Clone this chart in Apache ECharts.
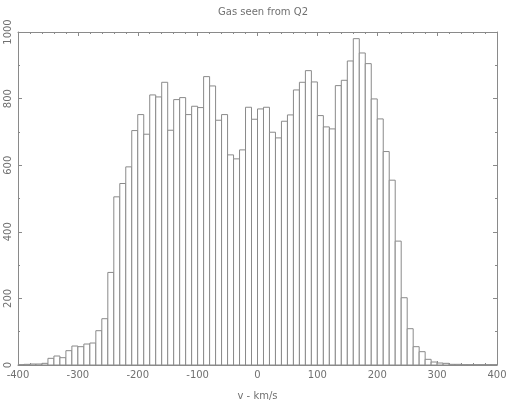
<!DOCTYPE html>
<html>
<head>
<meta charset="utf-8">
<script src="https://cdn.jsdelivr.net/npm/echarts@6/dist/echarts.min.js"></script>
<style>
    html, body {margin: 0; padding: 0; background: #fff;}
    #container {width: 510px; height: 406px;}
</style>
</head>
<body>
<div id="container"></div>
<script>
// histogram bins, 10 km/s wide (left edge of each bin)
var binWidth = 10;
var binStart = [
    -400, -390, -380, -370, -360, -350, -340, -330, -320, -310,
    -300, -290, -280, -270, -260, -250, -240, -230, -220, -210,
    -200, -190, -180, -170, -160, -150, -140, -130, -120, -110,
    -100, -90, -80, -70, -60, -50, -40, -30, -20, -10,
    0, 10, 20, 30, 40, 50, 60, 70, 80, 90,
    100, 110, 120, 130, 140, 150, 160, 170, 180, 190,
    200, 210, 220, 230, 240, 250, 260, 270, 280, 290,
    300, 310, 320, 330, 340, 350, 360, 370, 380, 390
];
var counts = [
    1, 2, 3, 3, 5, 20, 27, 22, 43, 57,
    55, 63, 66, 103, 139, 278, 505, 545, 595, 704,
    752, 693, 811, 805, 849, 705, 797, 803, 752, 777,
    773, 866, 838, 735, 752, 631, 619, 646, 774, 738,
    769, 774, 699, 682, 732, 751, 826, 849, 884, 850,
    749, 715, 709, 839, 855, 913, 980, 937, 905, 799,
    739, 641, 555, 372, 202, 109, 55, 40, 17, 9,
    6, 5, 2, 2, 1, 1, 1, 1, 1, 1
];
var xTicks = {min: -400, max: 400, interval: 100};
var yTicks = {min: 0, max: 1000, interval: 200};

var data = [];
for (let i = 0; i < binStart.length; i++) {
    data.push([binStart[i], counts[i]]);
}

var textColor = '#707070';
var lineColor = '#8a8a8a';
var fontName = 'DejaVu Sans';

function renderBar(params, api) {
    var x0 = api.value(0);
    var p0 = api.coord([x0, 0]);
    var p1 = api.coord([x0 + binWidth, api.value(1)]);
    return {
        type: 'rect',
        shape: {x: p0[0], y: p1[1], width: p1[0] - p0[0], height: p0[1] - p1[1]},
        style: {fill: '#fff', stroke: lineColor, lineWidth: 1}
    };
}

function frameAxis(pos, ticks, minorSplit, labels) {
    return {
        type: 'value',
        position: pos,
        min: ticks.min,
        max: ticks.max,
        interval: ticks.interval,
        axisLine: {show: true, onZero: false, lineStyle: {color: lineColor, width: 1}},
        axisTick: {show: true, inside: true, length: 4, lineStyle: {color: lineColor}},
        minorTick: {show: true, splitNumber: minorSplit, length: 2, lineStyle: {color: lineColor}},
        splitLine: {show: false},
        axisLabel: labels
    };
}

var myChart = echarts.init(document.getElementById('container'));
var option = {
    animation: false,
    backgroundColor: '#fff',
    title: {
        text: 'Gas seen from Q2',
        left: 258,
        top: 2,
        textAlign: 'center',
        textStyle: {fontFamily: fontName, fontSize: 10, fontWeight: 'normal', color: textColor}
    },
    grid: {left: 18, right: 13, top: 32, bottom: 40},
    xAxis: [
        Object.assign(frameAxis('bottom', xTicks, 5, {
            show: true, margin: 5, fontFamily: fontName, fontSize: 10, color: textColor
        }), {
            name: 'v - km/s',
            nameLocation: 'middle',
            nameGap: 26,
            nameTextStyle: {fontFamily: fontName, fontSize: 10, color: textColor}
        }),
        frameAxis('top', xTicks, 5, {show: false})
    ],
    yAxis: [
        frameAxis('left', yTicks, 2, {
            show: true, rotate: 90, margin: 5, fontFamily: fontName, fontSize: 10, color: textColor,
            formatter: function (v) { return String(v); }
        }),
        frameAxis('right', yTicks, 2, {show: false})
    ],
    series: [
        {
            type: 'custom',
            name: 'gas',
            renderItem: renderBar,
            data: data,
            clip: false,
            encode: {x: 0, y: 1}
        }
    ]
};
myChart.setOption(option);
</script>
</body>
</html>
